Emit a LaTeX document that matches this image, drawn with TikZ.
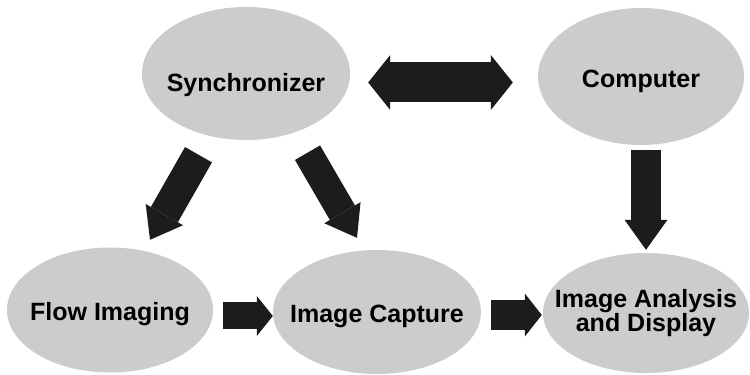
\documentclass[tikz,border=0pt]{standalone}
\usepackage{fontspec}
\setmainfont{Liberation Sans}
\usetikzlibrary{shapes.geometric,arrows.meta}
\definecolor{blobgray}{gray}{0.80}
\definecolor{arrowdark}{gray}{0.11}
% lower a label without changing its box
\newcommand\lowered[2]{\raisebox{-#1}[\height][\depth]{#2}}
\begin{document}
\begin{tikzpicture}[x=1pt,y=1pt,
  blob/.style={ellipse, fill=blobgray, draw=none, inner xsep=-30pt, inner ysep=0pt,
    font=\bfseries\fontsize{25}{24}\selectfont, align=center, text=black},
  blockarrow/.style n args={3}{draw=arrowdark, line width=#1,
    -{Triangle[width=#2, length=#3, line width=0pt]}},
  twowayarrow/.style n args={3}{draw=arrowdark, line width=#1,
    {Triangle[width=#2, length=#3, line width=0pt]}-{Triangle[width=#2, length=#3, line width=0pt]}}]
  \fill[white] (0,0) rectangle (750,375);
  \useasboundingbox (0,0) rectangle (750,375);

  % stages
  \node[blob, minimum width=208pt, minimum height=133pt] (sync) at (246,301.5) {\lowered{12pt}{Synchronizer}};
  \node[blob, minimum width=206pt, minimum height=137pt] (comp) at (641,298.5) {\lowered{5pt}{Computer}};
  \node[blob, minimum width=206pt, minimum height=125pt] (flow) at (110,65) {\lowered{4pt}{Flow Imaging}};
  \node[blob, minimum width=208pt, minimum height=124pt] (capt) at (377,63) {\lowered{4pt}{Image Capture}};
  \node[blob, minimum width=206pt, minimum height=120pt] (anal) at (646,62) {Image Analysis\\and Display};

  % block arrows between stages
  \draw[twowayarrow={40pt}{55pt}{22pt}] ([shift={(18,-9)}]sync.east) -- ([shift={(-25,-6)}]comp.west);
  \draw[blockarrow={30pt}{43pt}{30pt}] ([shift={(5,-5)}]comp.south) -- ([shift={(0,3)}]anal.north);
  \draw[blockarrow={31pt}{43pt}{29pt}] ([shift={(-47.5,-14.5)}]sync.south) -- ([shift={(40,7.5)}]flow.north);
  \draw[blockarrow={29pt}{42pt}{29pt}] ([shift={(61.5,-12.5)}]sync.south) -- ([shift={(-20,12)}]capt.north);
  \draw[blockarrow={27pt}{40pt}{16pt}] ([shift={(10,-6)}]flow.east) -- ([shift={(0,-4)}]capt.west);
  \draw[blockarrow={30pt}{43pt}{17pt}] ([shift={(10,-3)}]capt.east) -- ([shift={(-1,-2)}]anal.west);
\end{tikzpicture}
\end{document}
